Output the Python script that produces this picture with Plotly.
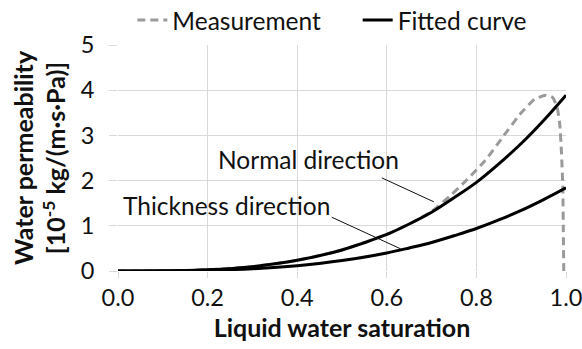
import plotly.graph_objects as go

# Liquid water saturation vs. water permeability [1e-5 kg/(m·s·Pa)]
sat_fit = [0.0, 0.1, 0.2, 0.3, 0.4, 0.5, 0.6, 0.65, 0.7, 0.75, 0.8, 0.85, 0.9, 0.95, 1.0]
normal_fit = [0.0, 0.0034, 0.028, 0.097, 0.236, 0.466, 0.81, 1.04, 1.30, 1.62, 1.96, 2.37, 2.82, 3.33, 3.89]
thickness_fit = [0.0, 0.0018, 0.015, 0.05, 0.118, 0.23, 0.40, 0.51, 0.63, 0.78, 0.94, 1.13, 1.34, 1.58, 1.84]

sat_meas = [0.0, 0.1, 0.2, 0.3, 0.4, 0.5, 0.6, 0.65, 0.7, 0.74, 0.78, 0.82, 0.86, 0.9, 0.93,
            0.955, 0.97, 0.98, 0.986, 0.99, 0.993, 0.994, 0.995]
meas = [0.0, 0.0034, 0.028, 0.097, 0.236, 0.466, 0.81, 1.04, 1.32, 1.65, 2.03, 2.45, 2.98, 3.5, 3.8,
        3.89, 3.84, 3.63, 3.25, 2.6, 1.8, 0.9, 0.0]

x_ticks = [0.0, 0.2, 0.4, 0.6, 0.8, 1.0]
y_ticks = [0, 1, 2, 3, 4, 5]

# Curve labels with leader lines: (text, text x, text y, line start, line end)
labels = [
    ("Normal direction", 0.426, 2.46, (0.589, 2.06), (0.705, 1.53)),
    ("Thickness direction", 0.243, 1.46, (0.477, 1.19), (0.631, 0.49)),
]

FONT = "Lato"
GRID = "#d9d9d9"
INK = "#111111"

fig = go.Figure()
fig.add_trace(go.Scatter(
    x=sat_meas, y=meas, mode="lines", name="Measurement", legend="legend",
    line=dict(color="#9a9a9a", width=3, dash="8px,5px", shape="spline", smoothing=0.5),
))
fig.add_trace(go.Scatter(
    x=sat_fit, y=normal_fit, mode="lines", name="Fitted curve", legend="legend2",
    line=dict(color="black", width=3, shape="spline"),
))
fig.add_trace(go.Scatter(
    x=sat_fit, y=thickness_fit, mode="lines", name="Fitted curve (thickness)",
    showlegend=False,
    line=dict(color="black", width=3, shape="spline"),
))

for text, tx, ty, (x0, y0), (x1, y1) in labels:
    fig.add_annotation(x=tx, y=ty, text=text, showarrow=False,
                       font=dict(family=FONT, size=24.5, color=INK))
    fig.add_shape(type="line", x0=x0, y0=y0, x1=x1, y1=y1,
                  line=dict(color=INK, width=1))

legend_style = dict(orientation="h", xanchor="left", y=1.11, yanchor="middle",
                    font=dict(family=FONT, size=24.5, color=INK), bgcolor="rgba(0,0,0,0)",
                    itemwidth=30)

fig.update_layout(
    width=582, height=349,
    margin=dict(l=118, r=16, t=45, b=78, autoexpand=False),
    paper_bgcolor="white", plot_bgcolor="white",
    font=dict(family=FONT, size=24, color=INK),
    showlegend=True,
    legend=dict(x=0.032, **legend_style),
    legend2=dict(x=0.535, **legend_style),
    xaxis=dict(
        range=[0, 1.0], tickvals=x_ticks, ticktext=[f"{v:.1f}" for v in x_ticks],
        showgrid=True, gridcolor=GRID, gridwidth=1,
        zeroline=False, showline=False,
        ticks="outside", ticklen=6, tickcolor=GRID,
        tickfont=dict(family=FONT, size=23.5, color=INK),
        ticklabeloverflow="allow", automargin=False,
        title=dict(text="<b>Liquid water saturation</b>", font=dict(family=FONT, size=25, color=INK),
                   standoff=9),
    ),
    yaxis=dict(
        range=[0, 5], tickvals=y_ticks,
        showgrid=True, gridcolor=GRID, gridwidth=1,
        zeroline=False, showline=False,
        ticks="outside", ticklen=8, tickcolor=GRID,
        tickfont=dict(family=FONT, size=23.5, color=INK),
        ticklabelstandoff=10, automargin=False,
        title=dict(text="<b>Water permeability<br>[10<sup>-5</sup> kg/(m·s·Pa)]</b>",
                   font=dict(family=FONT, size=25, color=INK), standoff=7),
    ),
)

fig.write_html("out.html")
